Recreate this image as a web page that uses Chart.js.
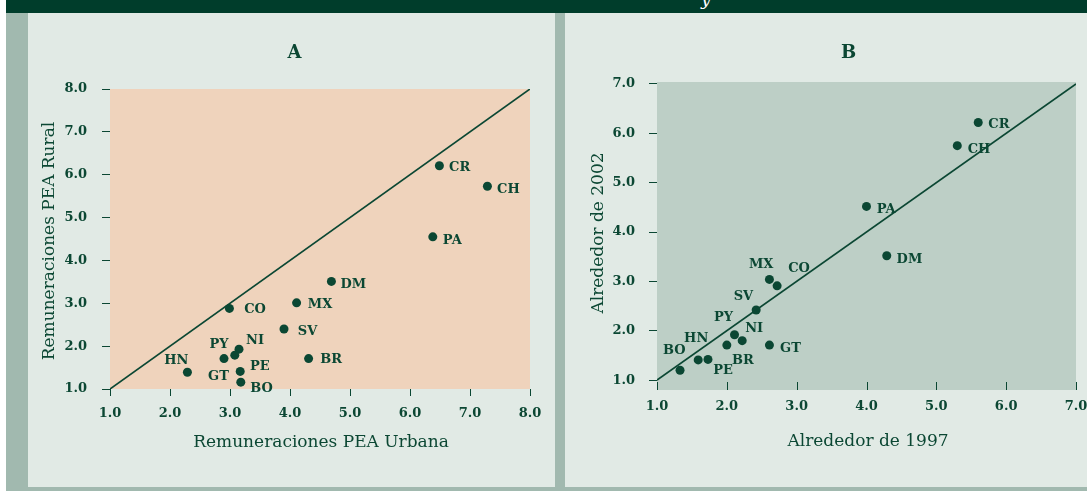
<!DOCTYPE html>
<html><head><meta charset="utf-8">
<script src="https://cdn.jsdelivr.net/npm/chart.js@4.4.0/dist/chart.umd.min.js"></script>
<style>
html,body{margin:0;padding:0;}
body{width:1087px;height:491px;position:relative;overflow:hidden;background:#ffffff;}
#banner{position:absolute;left:6px;top:0;width:1081px;height:13px;background:#003D2B;overflow:hidden;}
#banner span{position:absolute;left:695px;top:-11px;color:#fff;font:italic 17px "DejaVu Serif",serif;}
#strip{position:absolute;left:6px;top:13px;width:22px;height:478px;background:#A1B9AF;}
#bottom{position:absolute;left:6px;top:487px;width:1081px;height:4px;background:#A1B9AF;}
#divider{position:absolute;left:555px;top:13px;width:10px;height:478px;background:#A1B9AF;}
.panel{position:absolute;top:13px;height:474px;background:#E1EAE5;}
#pA{left:28px;width:527px;}
#pB{left:565px;width:522px;}
canvas{display:block;}
</style>
</head><body>
<div id="banner"><span>y</span></div>
<div id="strip"></div>
<div id="divider"></div>
<div id="bottom"></div>
<div class="panel" id="pA"><canvas id="cA" width="527" height="474"></canvas></div>
<div class="panel" id="pB"><canvas id="cB" width="522" height="474"></canvas></div>
<script>
// ---- Data: panel A (Remuneraciones PEA Urbana vs Rural) ----
const countriesA = ['CR','CH','PA','DM','MX','SV','BR','CO','HN','PY','NI','PE','GT','BO'];
const urbanA     = [6.49,7.29,6.38,4.69,4.11,3.90,4.31,2.99,2.29,2.90,3.15,3.08,3.17,3.18];
const ruralA     = [6.21,5.73,4.55,3.51,3.01,2.40,1.71,2.88,1.39,1.71,1.93,1.79,1.41,1.16];
const ticksA = [1,2,3,4,5,6,7,8];
const diagA = [1,8];

// ---- Data: panel B (Alrededor de 1997 vs 2002) ----
const countriesB = ['CR','CH','PA','DM','GT','CO','MX','SV','PY','NI','BR','PE','HN','BO'];
const y1997      = [5.60,5.30,4.00,4.29,2.61,2.72,2.61,2.42,2.11,2.22,2.00,1.73,1.59,1.33];
const y2002      = [6.22,5.75,4.52,3.52,1.71,2.91,3.04,2.42,1.92,1.80,1.71,1.42,1.41,1.20];
const ticksB = [1,2,3,4,5,6,7];
const diagB = [1,7];

// ---- Styles ----
const INK = '#0B4733';
const SERIF = '"DejaVu Serif", serif';
const labelOffA = {CR:[20.3,0.3],CH:[21,2],PA:[19.5,2],DM:[22,2],MX:[23.5,0.5],SV:[23.5,1],BR:[22.5,-0.5],
  CO:[25.7,0],HN:[-11,-13],PY:[-5,-15],NI:[16,-10],PE:[25,9.7],GT:[-21.7,4.3],BO:[20.7,5.3]};
const labelOffB = {CR:[20.7,0.7],CH:[21.7,3],PA:[19.7,1.7],DM:[22.7,2.3],GT:[21,2.7],CO:[22,-18.3],
  MX:[-8.3,-16],SV:[-12.7,-15],PY:[-11,-18],NI:[12,-13.4],BR:[16,14.3],PE:[15,10],HN:[-2,-22.7],BO:[-5.7,-20.7]};

Chart.defaults.font.family = SERIF;
Chart.defaults.color = INK;

function makeChart(id, cfg){
  const {xs, ys, names, diag, xMin, xMax, yMin, yMax, xTicks, yTicks, area, bg, innerXTicks,
         title, titlePos, xTitle, xTitlePos, yTitle, yTitlePos, offs, canvasW, canvasH} = cfg;
  const pts = xs.map((x,i)=>({x:x, y:ys[i]}));
  const line = diag.map(v=>({x:v, y:v}));
  const deco = {
    id:'deco'+id,
    beforeDatasetsDraw(chart){
      const a = chart.chartArea, c = chart.ctx;
      c.save(); c.fillStyle = bg; c.fillRect(a.left, a.top, a.right-a.left, a.bottom-a.top); c.restore();
    },
    afterDraw(chart){
      const c = chart.ctx, a = chart.chartArea, sx = chart.scales.x, sy = chart.scales.y;
      c.save();
      c.fillStyle = INK; c.strokeStyle = INK;
      if (innerXTicks){
        c.lineWidth = 1;
        xTicks.forEach(v=>{
          const px = Math.round(sx.getPixelForValue(v))+0.5;
          c.beginPath(); c.moveTo(px, a.bottom-8); c.lineTo(px, a.bottom); c.stroke();
        });
      }
      // titles
      c.textAlign = 'center'; c.textBaseline = 'alphabetic';
      c.font = 'bold 18px ' + SERIF;
      c.fillText(title, titlePos[0], titlePos[1]);
      c.font = '17px ' + SERIF;
      c.fillText(xTitle, xTitlePos[0], xTitlePos[1]);
      c.save(); c.translate(yTitlePos[0], yTitlePos[1]); c.rotate(-Math.PI/2);
      c.fillText(yTitle, 0, 0); c.restore();
      // point labels
      c.font = 'bold 13px ' + SERIF;
      names.forEach((n,i)=>{
        const px = sx.getPixelForValue(xs[i]), py = sy.getPixelForValue(ys[i]);
        const o = offs[n];
        c.fillText(n, px+o[0], py+o[1]+4.7);
      });
      c.restore();
    }
  };
  const fixed = {
    x: (s)=>{ s.height = canvasH - area.bottom; s.paddingLeft = 0; s.paddingRight = 0; },
    y: (s)=>{ s.width = area.left; s.paddingTop = 0; s.paddingBottom = 0; }
  };
  return new Chart(document.getElementById(id), {
    type:'scatter',
    data:{datasets:[
      {type:'scatter', data:pts, pointRadius:4.5, pointHoverRadius:4.5, backgroundColor:INK, borderWidth:0, order:0},
      {type:'line', data:line, borderColor:INK, borderWidth:1.7, pointRadius:0, fill:false, order:1}
    ]},
    options:{
      responsive:false, animation:false, devicePixelRatio:1,
      layout:{padding:{left:0, top:area.top, right:canvasW-area.right, bottom:0}},
      plugins:{legend:{display:false}, tooltip:{enabled:false}, title:{display:false}},
      scales:{
        x:{type:'linear', min:xMin, max:xMax,
           afterBuildTicks:(s)=>{ s.ticks = xTicks.map(v=>({value:v})); },
           afterFit: fixed.x,
           border:{display:false},
           grid: innerXTicks ? {display:false} : {display:true, drawOnChartArea:false, drawTicks:true, tickLength:7, color:INK, lineWidth:1},
           ticks:{font:{family:SERIF, weight:'bold', size:13}, color:INK, padding: cfg.xPad, maxRotation:0,
                  callback:(v)=>Number(v).toFixed(1)}},
        y:{type:'linear', min:yMin, max:yMax,
           afterBuildTicks:(s)=>{ s.ticks = yTicks.map(v=>({value:v})); },
           afterFit: fixed.y,
           border:{display:false},
           grid:{display:true, drawOnChartArea:false, drawTicks:true, tickLength:8, color:INK, lineWidth:1},
           ticks:{font:{family:SERIF, weight:'bold', size:13}, color:INK, padding: cfg.yPad,
                  callback:(v)=>Number(v).toFixed(1)}}
      }
    },
    plugins:[deco]
  });
}

makeChart('cA', {
  xs:urbanA, ys:ruralA, names:countriesA, diag:diagA,
  xMin:1, xMax:8, yMin:1, yMax:8, xTicks:ticksA, yTicks:ticksA,
  area:{left:82, right:502, top:76, bottom:376}, canvasW:527, canvasH:474,
  bg:'#EFD3BC', innerXTicks:false, yPad:15, xPad:10,
  title:'A', titlePos:[266.5,45],
  xTitle:'Remuneraciones PEA Urbana', xTitlePos:[293,434],
  yTitle:'Remuneraciones PEA Rural', yTitlePos:[26,228],
  offs:labelOffA
});

makeChart('cB', {
  xs:y1997, ys:y2002, names:countriesB, diag:diagB,
  xMin:1, xMax:7, yMin:0.8, yMax:7.04, xTicks:ticksB, yTicks:ticksB,
  area:{left:92, right:511, top:69, bottom:377}, canvasW:522, canvasH:474,
  bg:'#BDCFC6', innerXTicks:true, yPad:14, xPad:1,
  title:'B', titlePos:[283.5,45],
  xTitle:'Alrededor de 1997', xTitlePos:[303,433],
  yTitle:'Alrededor de 2002', yTitlePos:[38,220],
  offs:labelOffB
});
</script>
</body></html>
